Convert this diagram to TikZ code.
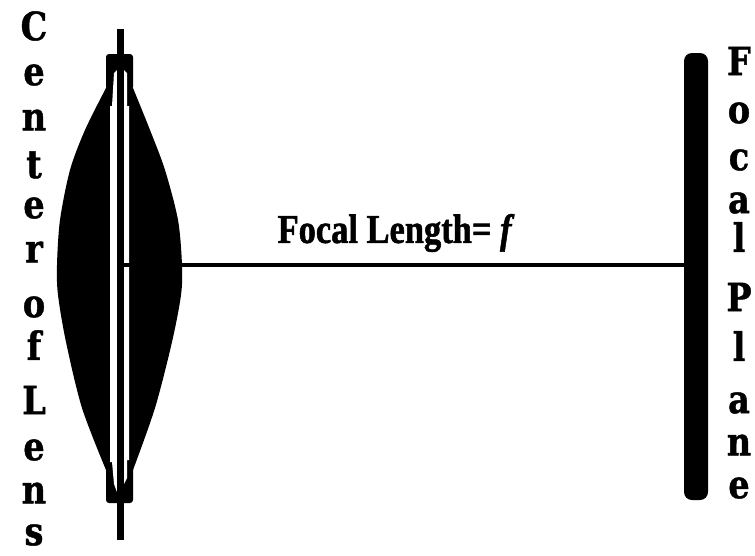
\documentclass[tikz,border=0pt]{standalone}
\usepackage{fontspec}
\setmainfont{Liberation Serif}[BoldFeatures={FakeBold=1.5},BoldItalicFeatures={FakeBold=1.5}]
\newfontfamily\slabfont{DejaVu Serif}[BoldFeatures={FakeBold=1.2}]
\begin{document}
\begin{tikzpicture}[
    x=1pt, y=-1pt,
    lettertag/.style={font=\fontsize{39}{39}\slabfont\bfseries, inner sep=0pt, xscale=0.86},
    lenstag/.style={font=\fontsize{41}{41}\selectfont\bfseries, inner sep=0pt, xscale=0.84},
    planebox/.style={rectangle, rounded corners=8pt, fill=black, inner sep=0pt,
                     minimum width=24pt, minimum height=447pt},
    axisline/.style={line width=3.5pt, draw=black}
  ]
    \useasboundingbox (0,0) rectangle (755,555);

    % Lens body, right side down and left side up, between the two caps
    \fill[black] plot[smooth, tension=0.5] coordinates {(133,88) (150,130) (165,170) (178,220)
        (182,265) (181,295) (172,342) (155,408) (133,470)}
      -- (106,470)
      -- plot[smooth, tension=0.5] coordinates {(106,470) (82,408) (66,342) (58,295)
        (57,265) (60,220) (70,170) (85,130) (106,88)} -- cycle;
    \fill[black, rounded corners=3pt] (106,90) -- (106,54) -- (133,54) -- (133,90) -- cycle;
    \fill[black, rounded corners=3pt] (106,460) -- (106,503) -- (133,503) -- (133,460) -- cycle;

    % White slits either side of the axis
    \fill[white] (114,73) -- (117,70) -- (117,492) -- (114,484) -- (112,462)
      -- (110,462) -- (110,106) -- (112,106) -- cycle;
    \fill[white] (124,70) -- (127,73) -- (127,106) -- (129,106) -- (129,460)
      -- (127,460) -- (127,478) -- (124,484) -- cycle;

    % Centre axis of the lens
    \coordinate (axistop) at (120.5,29);
    \coordinate (axisbot) at (120.5,540);
    \coordinate (lenscentre) at (120.5,265);
    \draw[line width=7pt] (axistop) -- (axisbot);

    % Focal plane and the length between
    \node[planebox] (plane) at (696,276.5) {};
    \draw[axisline] (lenscentre) -- (lenscentre -| plane.west);
    \node[lenstag] (focal) at (396,233) {Focal Length= \textit{f}};

    % Vertical labels, one letter at a time
    \foreach \ch/\y [count=\i] in {C/26, e/75, n/120, t/165, e/208, r/252, o/307, f/345, L/400, e/450, n/493, s/535}
      \node[lettertag] (left\i) at (34,\y) {\ch};
    \foreach \ch/\y [count=\i] in {F/61, o/113, c/160, a/203, l/237, P/297, l/346, a/403, n/445, e/488}
      \node[lettertag] (right\i) at (739,\y) {\ch};
  \end{tikzpicture}
\end{document}
